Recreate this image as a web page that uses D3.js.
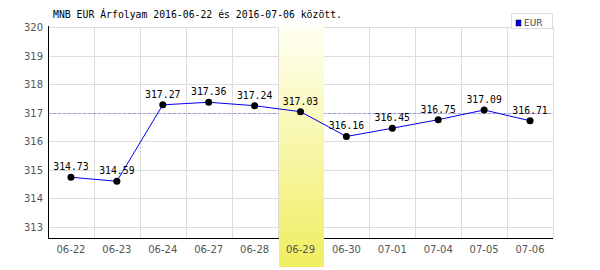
<!DOCTYPE html>
<html>
<head>
<meta charset="utf-8">
<script src="https://cdn.jsdelivr.net/npm/d3@7"></script>
<style>
	body { margin: 0; background: #fff; }
</style>
</head>
<body>
<div id="graph"></div>
<script>
const dates = ["06-22", "06-23", "06-24", "06-27", "06-28", "06-29", "06-30", "07-01", "07-04", "07-05", "07-06"];
const rates = [314.73, 314.59, 317.27, 317.36, 317.24, 317.03, 316.16, 316.45, 316.75, 317.09, 316.71];
const yTicks = [313, 314, 315, 316, 317, 318, 319, 320];
const refLine = 317;
const highlightDate = "06-29";
const title = "MNB EUR Árfolyam 2016-06-22 és 2016-07-06 között.";
const seriesName = "EUR";

width = 600;
height = 270;
marginTop = 27;
marginRight = 47;
marginBottom = 32;
marginLeft = 48;

const xScale = d3.scaleBand(dates, [marginLeft, width - marginRight]).padding(0);
const yScale = d3.scaleLinear([312.6, 320], [height - marginBottom, marginTop]);

const svg = d3
	.select("#graph")
	.append("svg")
	.attr("width", width)
	.attr("height", height)
	.attr("viewBox", [0, 0, width, height]);

const defs = svg.append("defs");
const grad = defs
	.append("linearGradient")
	.attr("id", "hl")
	.attr("x1", 0)
	.attr("y1", 0)
	.attr("x2", 0)
	.attr("y2", 1);
grad.append("stop").attr("offset", "0%").attr("stop-color", "#fffff4");
grad.append("stop").attr("offset", "100%").attr("stop-color", "#f0ee60");

// grid
svg
	.append("g")
	.attr("stroke", "#dcdcdc")
	.selectAll("line")
	.data(yTicks)
	.join("line")
	.attr("x1", marginLeft)
	.attr("x2", width - marginRight)
	.attr("y1", (d) => Math.round(yScale(d)) + 0.5)
	.attr("y2", (d) => Math.round(yScale(d)) + 0.5);

svg
	.append("g")
	.attr("stroke", "#dcdcdc")
	.selectAll("line")
	.data(dates)
	.join("line")
	.attr("x1", (d) => Math.round(xScale(d) + xScale.bandwidth()) + 0.5)
	.attr("x2", (d) => Math.round(xScale(d) + xScale.bandwidth()) + 0.5)
	.attr("y1", marginTop)
	.attr("y2", height - marginBottom);

// reference dashed line
svg
	.append("line")
	.attr("x1", marginLeft)
	.attr("x2", width - marginRight)
	.attr("y1", Math.round(yScale(refLine)) + 0.5)
	.attr("y2", Math.round(yScale(refLine)) + 0.5)
	.attr("stroke", "#9a9ae8")
	.attr("stroke-dasharray", "3,2");

// axes lines
svg
	.append("line")
	.attr("x1", marginLeft + 0.5)
	.attr("x2", marginLeft + 0.5)
	.attr("y1", marginTop - 1)
	.attr("y2", height - marginBottom)
	.attr("stroke", "#000");
svg
	.append("line")
	.attr("x1", marginLeft)
	.attr("x2", width - marginRight)
	.attr("y1", height - marginBottom + 0.5)
	.attr("y2", height - marginBottom + 0.5)
	.attr("stroke", "#000");

// highlight band
svg
	.append("rect")
	.attr("x", Math.round(xScale(highlightDate)) + 1)
	.attr("y", marginTop - 2)
	.attr("width", Math.round(xScale.bandwidth()) - 1)
	.attr("height", height - marginTop - 1)
	.attr("fill", "url(#hl)");

// y labels
svg
	.append("g")
	.attr("font-family", "DejaVu Sans")
	.attr("font-size", 10)
	.attr("fill", "#555")
	.attr("text-anchor", "end")
	.selectAll("text")
	.data(yTicks)
	.join("text")
	.attr("x", marginLeft - 5)
	.attr("y", (d) => yScale(d) + 4)
	.text((d) => d);

// x labels
svg
	.append("g")
	.attr("font-family", "DejaVu Sans")
	.attr("font-size", 10)
	.attr("fill", "#555")
	.attr("text-anchor", "middle")
	.selectAll("text")
	.data(dates)
	.join("text")
	.attr("x", (d) => xScale(d) + xScale.bandwidth() / 2)
	.attr("y", height - marginBottom + 15)
	.text((d) => d);

// line
const line = d3
	.line()
	.x((d, i) => xScale(dates[i]) + xScale.bandwidth() / 2)
	.y((d) => yScale(d));

svg
	.append("path")
	.datum(rates)
	.attr("fill", "none")
	.attr("stroke", "#0000ee")
	.attr("stroke-width", 1)
	.attr("d", line);

svg
	.append("g")
	.attr("fill", "#000")
	.selectAll("circle")
	.data(rates)
	.join("circle")
	.attr("cx", (d, i) => xScale(dates[i]) + xScale.bandwidth() / 2)
	.attr("cy", (d) => yScale(d))
	.attr("r", 3.5);

svg
	.append("g")
	.attr("font-family", "DejaVu Sans Mono")
	.attr("font-size", 9.8)
	.attr("fill", "#000")
	.attr("text-anchor", "middle")
	.selectAll("text")
	.data(rates)
	.join("text")
	.attr("x", (d, i) => xScale(dates[i]) + xScale.bandwidth() / 2)
	.attr("y", (d) => yScale(d) - 7)
	.text((d) => d.toFixed(2));

// title
svg
	.append("text")
	.attr("x", 53)
	.attr("y", 18)
	.attr("font-family", "DejaVu Sans Mono")
	.attr("font-size", 9.8)
	.attr("fill", "#000")
	.text(title);

// legend
const legend = svg.append("g");
legend
	.append("rect")
	.attr("x", 511.5)
	.attr("y", 13.5)
	.attr("width", 41)
	.attr("height", 15)
	.attr("fill", "#fff")
	.attr("stroke", "#dcdcdc");
legend
	.append("rect")
	.attr("x", 516)
	.attr("y", 20)
	.attr("width", 5)
	.attr("height", 6)
	.attr("fill", "#0000ee")
	.attr("stroke", "#000")
	.attr("stroke-width", 0.5);
legend
	.append("text")
	.attr("x", 524)
	.attr("y", 26)
	.attr("font-family", "DejaVu Sans")
	.attr("font-size", 9)
	.attr("fill", "#444")
	.text(seriesName);
</script>
</body>
</html>
